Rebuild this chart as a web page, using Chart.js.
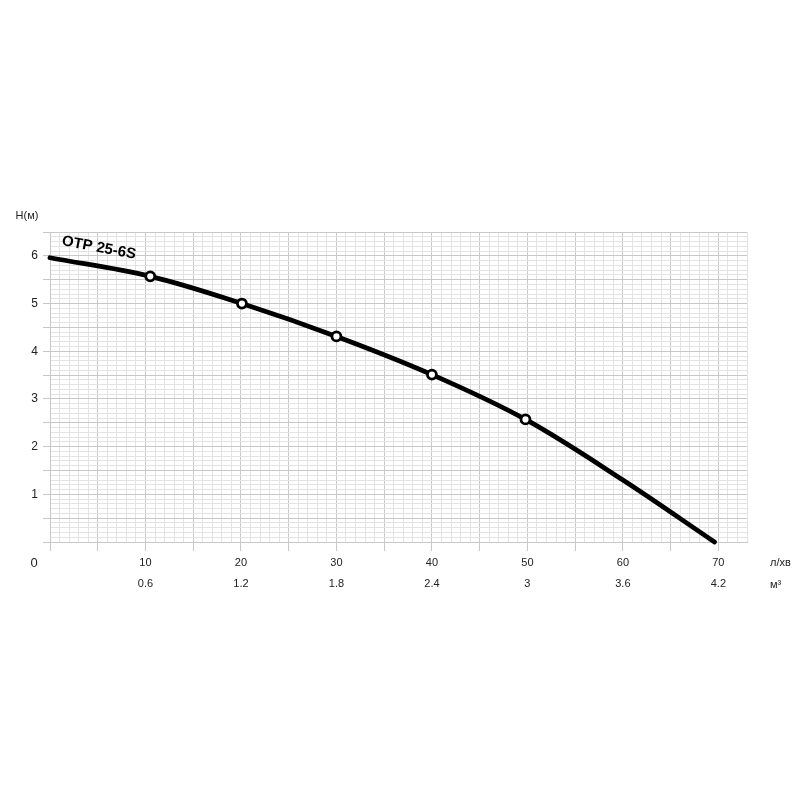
<!DOCTYPE html>
<html>
<head>
<meta charset="utf-8">
<script src="https://cdn.jsdelivr.net/npm/chart.js@4.4.1/dist/chart.umd.min.js"></script>
<style>
  body { margin: 0; background: #fff; }
  #wrap { width: 800px; height: 800px; }
</style>
</head>
<body>
<div id="wrap"><canvas id="canvas-pump" width="800" height="800"></canvas></div>
<script>
// curve: flow (l/min) vs head (m)
var flow = [0, 10.5, 20.1, 30, 40, 49.8, 60, 69.6];
var head = [5.96, 5.57, 5.0, 4.31, 3.51, 2.57, 1.30, 0];
var markerIdx = [1, 2, 3, 4, 5];

// tick labels
var flowTicks = [10, 20, 30, 40, 50, 60, 70];
var m3Ticks = ['0.6', '1.2', '1.8', '2.4', '3', '3.6', '4.2'];
var headTicks = [1, 2, 3, 4, 5, 6];

var minorGrid = '#e3e3e3';
var majorGrid = '#c8c8c8';
var textColor = '#222';

var extraText = {
    id: 'extraText',
    afterDraw: function(chart) {
        var ctx = chart.ctx;
        ctx.save();
        ctx.fillStyle = textColor;
        ctx.textBaseline = 'middle';
        ctx.textAlign = 'center';
        ctx.font = '13px "Liberation Sans", Arial, sans-serif';
        ctx.fillText('0', 34, 563);
        ctx.font = '11px "Liberation Sans", Arial, sans-serif';
        ctx.fillText('H(м)', 27, 216);
        ctx.textAlign = 'left';
        ctx.fillText('л/хв', 770, 563);
        ctx.fillText('м³', 770, 585);
        // model name, slightly tilted
        ctx.translate(62, 241);
        ctx.rotate(10.5 * Math.PI / 180);
        ctx.font = 'bold 15px "Liberation Sans", Arial, sans-serif';
        ctx.fillStyle = '#000';
        ctx.fillText('OTP 25-6S', 0, 0);
        ctx.restore();
    }
};

var points = flow.map(function(x, i) { return {x: x, y: head[i]}; });
var radii = flow.map(function(x, i) { return markerIdx.indexOf(i) >= 0 ? 4.5 : 0; });

var config = {
    type: 'line',
    data: {
        datasets: [{
            data: points,
            borderColor: '#000',
            borderWidth: 4.8,
            borderCapStyle: 'round',
            tension: 0.35,
            pointRadius: radii,
            pointHoverRadius: radii,
            pointBackgroundColor: '#fff',
            pointBorderColor: '#000',
            pointBorderWidth: 2.8,
            clip: 6
        }]
    },
    options: {
        responsive: false,
        animation: false,
        devicePixelRatio: 1,
        layout: { padding: { top: 232, right: 53, bottom: 198, left: 0 } },
        plugins: {
            legend: { display: false },
            tooltip: { enabled: false },
            title: { display: false }
        },
        scales: {
            x: {
                type: 'linear',
                min: 0,
                max: 73,
                afterFit: function(scale) { scale.height = 60; },
                border: { display: true, color: majorGrid },
                grid: {
                    drawTicks: true,
                    tickLength: 9,
                    color: function(c) { return c.tick && c.tick.value % 5 === 0 ? majorGrid : minorGrid; },
                    tickColor: function(c) { return c.tick && c.tick.value % 5 === 0 ? majorGrid : 'rgba(0,0,0,0)'; }
                },
                ticks: {
                    stepSize: 1,
                    maxTicksLimit: 1000,
                    autoSkip: false,
                    maxRotation: 0,
                    padding: 1,
                    color: textColor,
                    font: { family: '"Liberation Sans", Arial, sans-serif', size: 11, lineHeight: 1.95 },
                    callback: function(v) {
                        var i = flowTicks.indexOf(Math.round(v));
                        if (i >= 0 && Math.abs(v - flowTicks[i]) < 1e-6) return [String(flowTicks[i]), m3Ticks[i]];
                        return '';
                    }
                }
            },
            y: {
                type: 'linear',
                min: 0,
                max: 6.5,
                afterFit: function(scale) { scale.width = 50; },
                border: { display: true, color: majorGrid },
                grid: {
                    tickLength: 7,
                    color: function(c) { return c.tick && Math.round(c.tick.value * 10) % 5 === 0 ? majorGrid : minorGrid; },
                    tickColor: function(c) { return c.tick && Math.round(c.tick.value * 10) % 5 === 0 ? majorGrid : 'rgba(0,0,0,0)'; }
                },
                ticks: {
                    stepSize: 0.1,
                    maxTicksLimit: 1000,
                    autoSkip: false,
                    padding: 5,
                    color: textColor,
                    font: { family: '"Liberation Sans", Arial, sans-serif', size: 12 },
                    callback: function(v) {
                        var r = Math.round(v * 10);
                        if (r % 10 === 0 && headTicks.indexOf(r / 10) >= 0) return String(r / 10);
                        return '';
                    }
                }
            }
        }
    },
    plugins: [extraText]
};

window.onload = function() {
    window.pumpChart = new Chart(document.getElementById('canvas-pump'), config);
};
</script>
</body>
</html>
